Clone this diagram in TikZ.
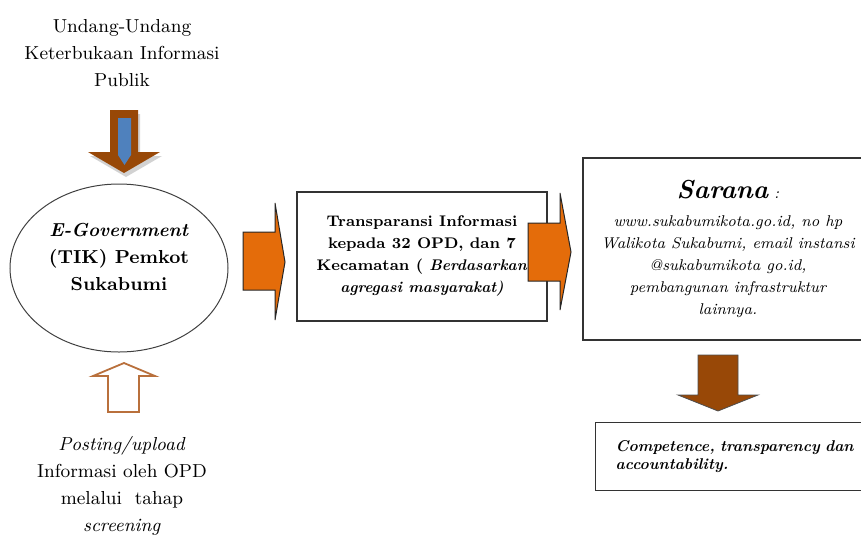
\documentclass[tikz,border=0pt]{standalone}
\usetikzlibrary{shapes.geometric}
\definecolor{arrowbrown}{HTML}{984807}
\definecolor{arroworange}{HTML}{E46C0A}
\definecolor{arrowblue}{HTML}{4F81BD}
\definecolor{hollowbrown}{HTML}{B9703C}

\begin{document}
\begin{tikzpicture}[
      x=0.5pt,y=-0.5pt,
      plain/.style={align=center,font=\fontsize{9.4}{13.5}\selectfont},
      textbox/.style={draw=black!80,line width=.7pt,inner sep=0pt},
      blockorange/.style={fill=arroworange,draw=black!85,line width=.5pt},
      blockbrown/.style={fill=arrowbrown,draw=black!70,line width=.4pt},
      hollow/.style={draw=hollowbrown,fill=white,line width=.9pt}]
    \clip (0,0) rectangle (861,537);

    % sumber dan input
    \node[plain] (uu) at (122,53) {Undang-Undang\\Keterbukaan Informasi\\Publik};
    \node[plain] (posting) at (122,486) {\emph{Posting/upload}\\Informasi oleh OPD\\melalui~ tahap\\\emph{screening}};

    % panah turun dari UU
    \fill[gray!35] (112,114) -- (140,114) -- (140,156) -- (162,156) -- (126,177) -- (90,156) -- (112,156) -- cycle;
    \fill[arrowbrown] (110,110) -- (138,110) -- (138,152) -- (160,152) -- (124,173) -- (88,152) -- (110,152) -- cycle;
    \fill[arrowblue] (118,118) -- (131,118) -- (131,155) -- (124.5,165) -- (118,155) -- cycle;

    % e-government
    \node[draw=black!75,line width=.5pt,ellipse,minimum width=109pt,minimum height=84pt] (egov) at (119,268) {};
    \node[plain,font=\fontsize{9.4}{13.5}\selectfont\bfseries] (egovtext) at (119,257) {\textit{E-Government}\\(TIK) Pemkot\\Sukabumi};

    % panah naik (posting)
    \draw[hollow] (108,412) -- (108,376) -- (93,376) -- (124,363) -- (155,376) -- (139,376) -- (139,412) -- cycle;

    % transparansi
    \draw[blockorange] (243,232) -- (275,232) -- (275,203) -- (285,262) -- (275,320) -- (275,290) -- (243,290) -- cycle;
    \node[textbox,minimum width=125pt,minimum height=64.5pt,align=center,
      font=\fontsize{7.7}{11}\selectfont\bfseries] (transp) at (422,256.5)
      {Transparansi Informasi\\kepada 32 OPD, dan 7\\Kecamatan ( \textit{Berdasarkan}\\\textit{agregasi masyarakat)}};
    \draw[blockorange] (528,223) -- (560,223) -- (560,193) -- (571,252) -- (560,310) -- (560,281) -- (528,281) -- cycle;

    % sarana
    \node[textbox,minimum width=145pt,minimum height=91pt,align=center,
      font=\fontsize{7.8}{11}\selectfont\itshape] (sarana) at (728,249)
      {{\fontsize{13}{16}\selectfont\bfseries Sarana} :\\[3pt]
       www.sukabumikota.go.id, no hp\\Walikota Sukabumi, email instansi\\@sukabumikota go.id,\\pembangunan infrastruktur\\lainnya.};

    \draw[blockbrown] (698,355) -- (738,355) -- (738,395) -- (758,395) -- (718,411) -- (678,395) -- (698,395) -- cycle;

    % hasil
    \node[textbox,anchor=north west,minimum width=145pt,minimum height=34pt,align=left,
      text width=125pt,inner xsep=10pt,font=\fontsize{7.8}{9}\selectfont\bfseries\itshape] (hasil) at (595,422)
      {Competence, transparency dan\\accountability.};
\end{tikzpicture}
\end{document}
